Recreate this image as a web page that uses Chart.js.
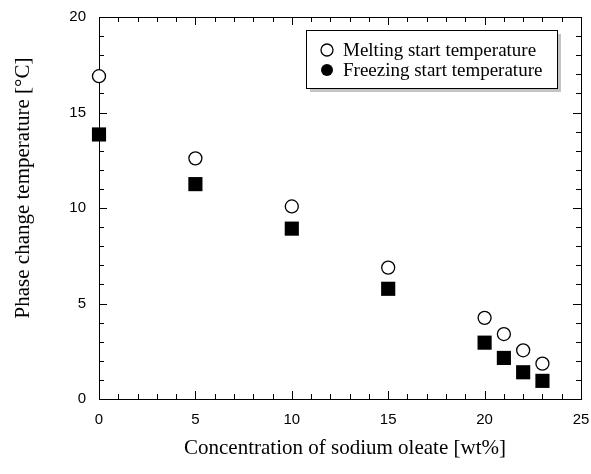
<!DOCTYPE html>
<html>
<head>
<meta charset="utf-8">
<script src="https://cdn.jsdelivr.net/npm/chart.js@4"></script>
<style>
html,body{margin:0;padding:0;background:#fff;}
#wrap{width:591px;height:474px;position:relative;}
</style>
</head>
<body>
<div id="wrap"><canvas id="c" width="591" height="474"></canvas></div>
<script>
const concentration = [0, 5, 10, 15, 20, 21, 22, 23];
const meltingStart = [16.9, 12.6, 10.08, 6.88, 4.25, 3.4, 2.55, 1.85];
const freezingStart = [13.85, 11.25, 8.92, 5.77, 2.95, 2.15, 1.4, 0.95];
const xTicks = [0, 5, 10, 15, 20, 25];
const yTicks = [0, 5, 10, 15, 20];
const legendLabels = ['Melting start temperature', 'Freezing start temperature'];
const xTitle = 'Concentration of sodium oleate [wt%]';
const yTitle = 'Phase change temperature [°C]';

const serif = '"Liberation Serif", "Times New Roman", serif';
const sans = '"Liberation Sans", Arial, sans-serif';

const framePlugin = {
  id: 'frame',
  beforeDatasetsDraw(chart) {
    const ctx = chart.ctx, a = chart.chartArea;
    const xs = chart.scales.x, ys = chart.scales.y;
    ctx.save();
    ctx.strokeStyle = '#000';
    ctx.lineWidth = 1;
    ctx.strokeRect(Math.round(a.left) + 0.5, Math.round(a.top) + 0.5, Math.round(a.right - a.left), Math.round(a.bottom - a.top));
    ctx.beginPath();
    for (let v = xs.min; v <= xs.max; v += 1) {
      const px = Math.round(xs.getPixelForValue(v)) + 0.5;
      const len = (v % 5 === 0) ? 8 : 5;
      ctx.moveTo(px, a.bottom); ctx.lineTo(px, a.bottom - len);
      ctx.moveTo(px, a.top); ctx.lineTo(px, a.top + len);
    }
    for (let v = ys.min; v <= ys.max; v += 1) {
      const py = Math.round(ys.getPixelForValue(v)) + 0.5;
      const len = (v % 5 === 0) ? 8 : 5;
      ctx.moveTo(a.left, py); ctx.lineTo(a.left + len, py);
      ctx.moveTo(a.right, py); ctx.lineTo(a.right - len, py);
    }
    ctx.stroke();
    ctx.restore();
  },
  afterDraw(chart) {
    const ctx = chart.ctx;
    ctx.save();
    // axis titles
    ctx.fillStyle = '#000';
    ctx.font = '21px ' + serif;
    ctx.textAlign = 'center';
    ctx.textBaseline = 'middle';
    ctx.fillText(xTitle, 345, 448);
    ctx.save();
    ctx.translate(23, 188);
    ctx.rotate(-Math.PI / 2);
    ctx.fillText(yTitle, 0, 0);
    ctx.restore();

    // legend box
    const bx = 306, by = 30, bw = 251, bh = 58;
    ctx.fillStyle = '#c4c4c4';
    ctx.fillRect(bx + 4, by + 4, bw, bh);
    ctx.fillStyle = '#fff';
    ctx.fillRect(bx, by, bw, bh);
    ctx.strokeStyle = '#000';
    ctx.lineWidth = 1;
    ctx.strokeRect(bx + 0.5, by + 0.5, bw, bh);
    const rows = [by + 20, by + 40];
    ctx.font = '19px ' + serif;
    ctx.textBaseline = 'middle';
    ctx.textAlign = 'left';
    rows.forEach((ry, i) => {
      ctx.beginPath();
      ctx.arc(327, ry, 6, 0, Math.PI * 2);
      if (i === 0) { ctx.fillStyle = '#fff'; ctx.fill(); ctx.lineWidth = 1.3; ctx.strokeStyle = '#000'; ctx.stroke(); }
      else { ctx.fillStyle = '#000'; ctx.fill(); }
      ctx.fillStyle = '#000';
      ctx.fillText(legendLabels[i], 343, ry + 1);
    });
    ctx.restore();
  }
};

new Chart(document.getElementById('c'), {
  type: 'scatter',
  data: {
    datasets: [
      {
        label: legendLabels[0],
        data: concentration.map((x, i) => ({x: x, y: meltingStart[i]})),
        pointStyle: 'circle',
        pointRadius: 6.5,
        pointHoverRadius: 6.5,
        backgroundColor: '#fff',
        borderColor: '#000',
        borderWidth: 1.3,
        clip: false
      },
      {
        label: legendLabels[1],
        data: concentration.map((x, i) => ({x: x, y: freezingStart[i]})),
        pointStyle: 'rect',
        pointRadius: 10,
        pointHoverRadius: 10,
        backgroundColor: '#000',
        borderColor: '#000',
        borderWidth: 0,
        clip: false
      }
    ]
  },
  options: {
    responsive: false,
    animation: false,
    events: [],
    layout: {padding: {top: 17, right: 10, left: 0, bottom: 0}},
    plugins: {legend: {display: false}, tooltip: {enabled: false}},
    scales: {
      x: {
        type: 'linear', min: 0, max: 25,
        afterBuildTicks: s => { s.ticks = xTicks.map(v => ({value: v})); },
        afterFit: s => { s.height = 75; s.paddingLeft = 0; s.paddingRight = 0; },
        grid: {display: false, drawTicks: false},
        border: {display: false},
        ticks: {color: '#000', font: {family: sans, size: 15}, padding: 12, maxRotation: 0},
        title: {display: false}
      },
      y: {
        type: 'linear', min: 0, max: 20,
        afterBuildTicks: s => { s.ticks = yTicks.map(v => ({value: v})); },
        afterFit: s => { s.width = 99; s.paddingTop = 0; s.paddingBottom = 0; },
        grid: {display: false, drawTicks: false},
        border: {display: false},
        ticks: {color: '#000', font: {family: sans, size: 15}, padding: 13},
        title: {display: false}
      }
    }
  },
  plugins: [framePlugin]
});
</script>
</body>
</html>
